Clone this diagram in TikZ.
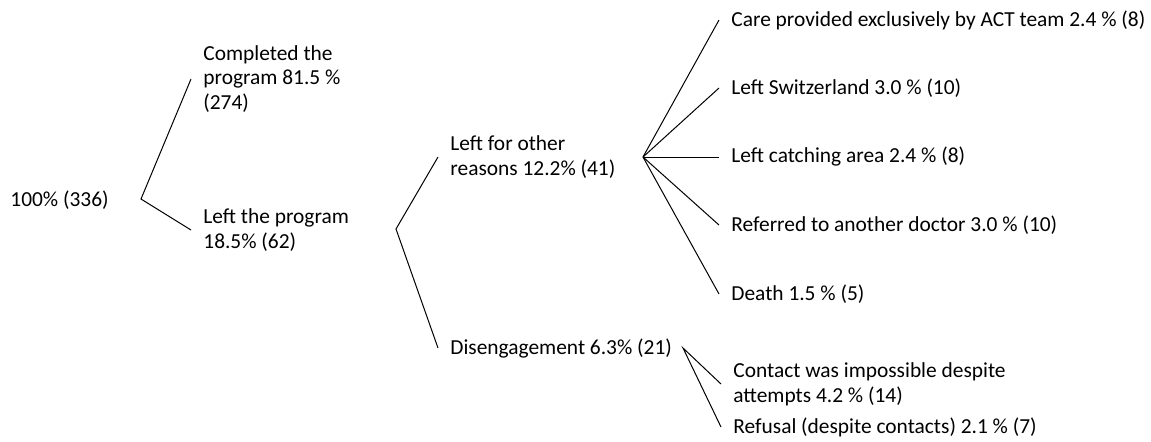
\documentclass[tikz,border=0pt]{standalone}
\usepackage{fontspec}
\setmainfont{Carlito}
\begin{document}
\begin{tikzpicture}[
x=0.5pt, y=-0.5pt,
lbl/.style={
  anchor=west,
  inner xsep=6pt,
  inner ysep=0pt,
  align=left,
  font=\fontsize{10.7}{12.3}\selectfont
},
branch/.style={
  line width=0.5pt
}
]
\useasboundingbox (0,0) rectangle (1151,441);

% first split
\node[lbl, inner xsep=0pt] (total) at (10,200) {100\% (336)};
\coordinate (fork1) at (141,199);
\node[lbl] (done) at (191,79)
  {Completed the\\program 81.5 \%\\(274)};
\node[lbl] (left) at (191,230)
  {Left the program\\18.5\% (62)};

% reasons for leaving
\coordinate (fork2) at (396,229);
\node[lbl] (other) at (438,157)
  {Left for other\\reasons 12.2\% (41)};
\node[lbl] (diseng) at (438,348)
  {Disengagement 6.3\% (21)};

% other reasons
\coordinate (fork3) at (643,157);
\node[lbl] (act) at (719,20)
  {Care provided exclusively by ACT team 2.4 \% (8)};
\node[lbl] (swiss) at (719,88)
  {Left Switzerland 3.0 \% (10)};
\node[lbl] (area) at (719,157)
  {Left catching area 2.4 \% (8)};
\node[lbl] (doctor) at (719,225)
  {Referred to another doctor 3.0 \% (10)};
\node[lbl] (death) at (719,294)
  {Death 1.5 \% (5)};

% disengagement
\coordinate (fork4) at (683,348);
\node[lbl] (contact) at (721,384)
  {Contact was impossible despite\\attempts 4.2 \% (14)};
\node[lbl] (refusal) at (721,427)
  {Refusal (despite contacts) 2.1 \% (7)};

\draw[branch] (done.west) -- (fork1) -- (left.west);
\draw[branch] (other.west) -- (fork2) -- (diseng.west);
\foreach \n in {act,swiss,area,doctor,death}
  \draw[branch] (fork3) -- (\n.west);
\draw[branch] (contact.west) -- (fork4) -- (refusal.west);
\end{tikzpicture}
\end{document}
